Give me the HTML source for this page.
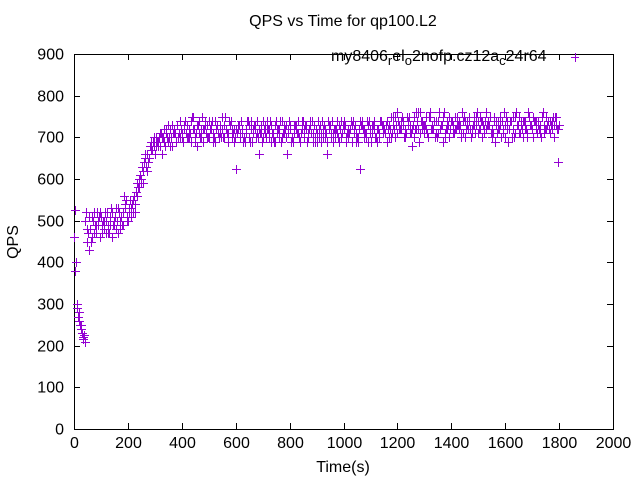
<!DOCTYPE html>
<html><head><meta charset="utf-8"><style>
body{margin:0;background:#fff}
svg text{font-family:"Liberation Sans",sans-serif;font-size:16px;fill:#000}
</style></head><body>
<svg id="chart" width="640" height="480" xmlns="http://www.w3.org/2000/svg">
<text x="343" y="26" text-anchor="middle">QPS vs Time for qp100.L2</text>
<g id="axes"></g>
<g id="pts"></g>
<text x="343" y="472" text-anchor="middle">Time(s)</text>
<text transform="translate(18,242) rotate(-90)" text-anchor="middle">QPS</text>
<g>
<text x="331" y="61">my8406<tspan font-size="13" dy="4">r</tspan><tspan dy="-4">el</tspan><tspan font-size="13" dy="4">o</tspan><tspan dy="-4">2nofp.cz12a</tspan><tspan font-size="13" dy="4">c</tspan><tspan dy="-4">24r64</tspan></text>
<path d="M571 57.5h8M575.5 53v9" stroke="#9400d3" stroke-width="1"/>
</g>
</svg>
<script>
const xTicks=[0,200,400,600,800,1000,1200,1400,1600,1800,2000];
const yTicks=[0,100,200,300,400,500,600,700,800,900];
const step=10;
const qpsA=[460,290,260,230,210,450,480,500,470,490,
510,480,500,470,520,490,500,480,520,540,
500,530,550,570,580,600,640,620,650,670,
660,690,680,700,710,690,700,720,690,710,
700,720,730,710,750,700,730,720,690,710,
740,720,700,730,710,720,750,690,730,710,
625,720,740,700,710,730,690,720,740,710,
700,730,720,690,710,740,720,700,730,660,
720,700,730,710,690,740,720,700,710,730,
690,720,740,700,660,730,710,720,700,740,
720,690,710,730,720,700,625,740,710,690,
720,730,700,710,740,720,690,730,710,750,
760,720,740,700,730,710,750,720,690,740,
730,710,760,720,700,740,730,690,720,750,
740,710,730,720,760,700,740,720,730,750,
710,740,720,760,730,700,740,710,750,720,
730,690,740,720,760,710,730,740,700,750,
720,740,730,710,760,720,740,730,700,750,
730];
const qpsB=[380,270,250,220,520,430,510,470,520,460,
490,520,470,510,490,530,470,510,560,500,
520,540,520,560,610,590,660,640,670,700,
680,700,660,720,700,680,730,710,700,740,
690,710,700,740,720,680,710,750,730,700,
720,690,740,710,700,730,720,740,700,720,
710,700,720,690,740,720,710,700,660,730,
720,740,700,710,690,720,740,710,700,720,
690,710,730,700,740,720,690,730,710,700,
740,690,720,710,730,700,720,740,690,710,
730,700,720,740,710,690,730,720,700,740,
710,720,690,740,730,710,720,700,750,730,
720,740,700,750,730,680,720,760,710,730,
750,700,720,740,710,760,730,700,740,720,
710,750,730,700,740,720,750,710,730,760,
720,700,740,730,750,710,740,720,700,760,
740,720,700,750,730,710,740,720,760,730,
700,740,720,750,710,730,740,720,750,640];
const qpsC=[525,300,250,215,500,470,450,520,490,510,
470,500,520,490,460,510,530,500,490,550,
530,510,560,590,600,630,650,660,680,690,
700,680,710,690,720,700,680,710,730,700,
710,740,700,690,720,710,740,700,720,730,
700,740,690,710,730,700,720,710,740,690,
720,730,710,700,740,690,720,730,700,710,
740,700,720,730,690,710,700,740,720,710,
730,690,720,740,710,700,730,720,740,690,
710,730,700,720,740,710,690,720,730,700,
740,710,720,690,730,700,740,720,710,730,
690,740,720,700,730,710,740,720,730,700,
740,720,730,710,750,720,700,740,760,720,
730,700,750,720,740,710,730,760,720,700,
740,720,750,730,710,740,720,700,750,730,
720,740,710,730,750,720,690,740,730,710,
750,720,740,700,730,750,720,740,710,730,
750,720,740,700,730,750,720,740,730,720];
const qpsD=[400,280,240,225,480,510,460,490,500,520,
500,470,490,530,500,480,520,490,530,510,
550,520,540,580,590,620,630,650,690,680,
690,710,700,680,730,720,710,690,700,720,
730,700,720,750,690,730,700,720,740,700,
730,710,720,700,750,700,710,730,720,700,
730,710,690,720,700,740,730,710,720,690,
710,720,740,700,730,720,690,710,730,740,
700,730,710,690,720,730,710,740,690,720,
700,710,730,690,720,740,700,710,720,730,
700,720,740,710,690,720,730,700,740,710,
730,700,720,740,710,730,700,750,720,710,
730,750,720,740,710,730,760,720,740,710,
720,750,730,740,700,720,750,710,730,740,
730,720,740,710,750,730,740,720,710,740,
750,730,720,740,710,750,730,720,740,700,
720,740,750,710,730,740,700,720,750,730,
740,710,730,750,720,740,710,750,730,720];
const X0=74,X1=613,Y0=429,Y1=54;
function sx(t){return X0+(t-0)/2000*(X1-X0);}
function sy(v){return Y0-v/900*(Y0-Y1);}
const NS="http://www.w3.org/2000/svg";
const ax=document.getElementById('axes');
const frame=document.createElementNS(NS,'rect');


frame.setAttribute('x',X0+0.5);frame.setAttribute('y',Y1+0.5);
frame.setAttribute('width',X1-X0);frame.setAttribute('height',Y0-Y1);
frame.setAttribute('fill','none');frame.setAttribute('stroke','#000');
ax.appendChild(frame);
xTicks.forEach(t=>{
 const x=Math.round(sx(t))+0.5;
 const p=document.createElementNS(NS,'path');
 
 
 p.setAttribute('d',`M${x} ${Y0}v-6M${x} ${Y1}v6`);p.setAttribute('stroke','#000');
 ax.appendChild(p);
 const tx=document.createElementNS(NS,'text');
 
 
 tx.setAttribute('x',x);tx.setAttribute('y',Y0+19);tx.setAttribute('text-anchor','middle');
 tx.textContent=t;ax.appendChild(tx);
});
yTicks.forEach(v=>{
 const y=Math.round(sy(v))+0.5;
 const p=document.createElementNS(NS,'path');
 
 
 p.setAttribute('d',`M${X0} ${y}h6M${X1} ${y}h-6`);p.setAttribute('stroke','#000');
 ax.appendChild(p);
 const tx=document.createElementNS(NS,'text');
 
 
 tx.setAttribute('x',X0-10);tx.setAttribute('y',y+5);tx.setAttribute('text-anchor','end');
 tx.textContent=v;ax.appendChild(tx);
});
const pts=document.getElementById('pts');
function plot(arr,off){
 let d='';
 arr.forEach((v,i)=>{
  const x=Math.round(sx(i*step+off))+0.5,y=Math.round(sy(v))+0.5;
  d+=`M${x-4.5} ${y}h9M${x} ${y-4.5}v9`;
 });
 const p=document.createElementNS(NS,'path');
 
 
 p.setAttribute('d',d);p.setAttribute('stroke','#9400d3');p.setAttribute('fill','none');
 p.setAttribute('shape-rendering','crispEdges');
 pts.appendChild(p);
}
plot(qpsA,0);
plot(qpsC,2.5);
plot(qpsB,5);
plot(qpsD,7.5);
</script>
</body></html>
